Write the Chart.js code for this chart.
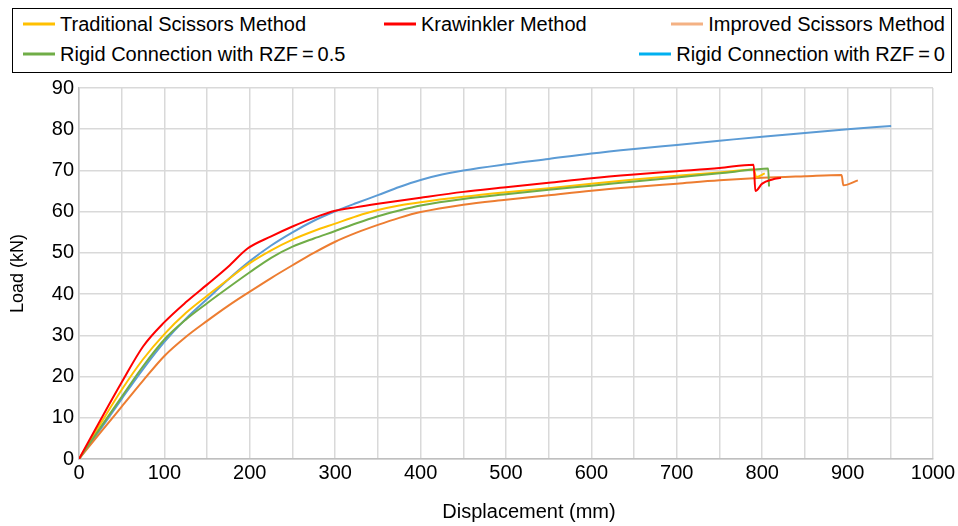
<!DOCTYPE html>
<html>
<head>
<meta charset="utf-8">
<script src="https://cdn.jsdelivr.net/npm/chart.js@4.4.0/dist/chart.umd.min.js"></script>
<style>
  body { margin: 0; background: #fff; }
  #wrap { position: relative; width: 958px; height: 526px; font-family: "Liberation Sans", Arial, sans-serif; }
  #legend { position: absolute; left: 12px; top: 8px; width: 938px; height: 63px;
            border: 1px solid #000; background: #fff; font-size: 20px; color: #000; }
  .item { position: absolute; display: flex; align-items: center; white-space: nowrap; transform: translateY(-50%); }
  .sw { width: 32px; height: 3px; margin-right: 5px; }
  #xtitle { position: absolute; left: 529px; top: 511px; transform: translate(-50%, -50%);
            font-size: 20px; color: #000; white-space: nowrap; }
</style>
</head>
<body>
<div id="wrap">
  <canvas id="myChart" width="958" height="526"></canvas>
  <div id="legend"></div>
  <div id="xtitle">Displacement (mm)</div>
</div>
<script>
// Traditional Scissors Method
var tradX = [0, 25, 50, 75, 100, 125, 150, 175, 200, 225, 250, 275, 300, 325, 350, 375, 400, 450, 500, 550, 600, 650, 700, 750, 790, 793, 803];
var tradY = [0, 8.5, 16.8, 24.2, 30.3, 35.4, 39.6, 43.6, 47.5, 50.6, 53.2, 55.3, 57.1, 58.9, 60.4, 61.5, 62.3, 63.6, 64.7, 65.7, 66.8, 67.8, 68.7, 69.5, 70.2, 68.4, 69.3];

// Krawinkler Method
var krawX = [0, 25, 50, 75, 100, 125, 150, 175, 197, 225, 250, 275, 300, 325, 350, 400, 450, 500, 550, 600, 650, 700, 750, 790, 792, 800, 812, 822];
var krawY = [0, 9.4, 18.6, 27.3, 33.2, 38.0, 42.3, 46.7, 51.0, 54.0, 56.4, 58.5, 60.2, 61.1, 61.9, 63.4, 64.8, 65.9, 67.0, 68.1, 69.0, 69.8, 70.6, 71.4, 65.0, 66.8, 67.8, 68.2];

// Improved Scissors Method
var imprX = [0, 25, 50, 75, 100, 125, 150, 175, 200, 225, 250, 275, 300, 325, 350, 375, 400, 450, 500, 550, 600, 650, 700, 750, 800, 850, 893, 895, 912];
var imprY = [0, 6.4, 12.7, 19.0, 25.0, 29.6, 33.5, 37.2, 40.6, 43.9, 47.0, 50.0, 52.7, 54.9, 56.8, 58.5, 59.9, 61.7, 62.9, 64.0, 65.1, 66.0, 66.8, 67.6, 68.2, 68.6, 68.9, 66.4, 67.6];

// Rigid Connection with RZF = 0.5
var rzf5X = [0, 25, 50, 75, 100, 125, 150, 175, 200, 225, 250, 275, 300, 325, 350, 375, 400, 450, 500, 550, 600, 650, 700, 750, 790, 807, 808];
var rzf5Y = [0, 7.6, 15.1, 22.5, 29.0, 33.8, 37.8, 41.6, 45.3, 48.8, 51.5, 53.5, 55.3, 57.2, 58.9, 60.3, 61.5, 63.1, 64.2, 65.3, 66.3, 67.3, 68.3, 69.3, 70.2, 70.5, 66.1];

// Rigid Connection with RZF = 0
var rzf0X = [0, 25, 50, 75, 100, 125, 150, 175, 200, 225, 250, 275, 300, 325, 350, 375, 400, 425, 450, 500, 550, 600, 650, 700, 750, 800, 850, 900, 951];
var rzf0Y = [0, 7.2, 14.6, 21.8, 28.4, 34.0, 38.8, 43.6, 48.0, 51.8, 55.0, 57.8, 60.1, 62.1, 64.0, 66.0, 67.7, 69.0, 70.0, 71.5, 72.8, 74.1, 75.2, 76.2, 77.2, 78.2, 79.1, 80.0, 80.8];

var names = ["Traditional Scissors Method", "Krawinkler Method", "Improved Scissors Method",
             "Rigid Connection with RZF\u2009=\u20090.5", "Rigid Connection with RZF\u2009=\u20090"];
var lineColors = ["#FFC000", "#FF0000", "#ED7D31", "#70AD47", "#5B9BD5"];
var legendColors = ["#FFC000", "#FF0000", "#F4B183", "#70AD47", "#00B0F0"];

function pts(xs, ys) {
  return xs.map(function (x, i) { return {x: x, y: ys[i]}; });
}

var series = [pts(tradX, tradY), pts(krawX, krawY), pts(imprX, imprY), pts(rzf5X, rzf5Y), pts(rzf0X, rzf0Y)];
// draw order: blue at the back, red on top
var drawOrder = [3, 1, 4, 2, 5];

var datasets = series.map(function (d, i) {
  return {
    label: names[i],
    data: d,
    borderColor: lineColors[i],
    backgroundColor: lineColors[i],
    borderWidth: 2,
    pointRadius: 0,
    cubicInterpolationMode: "monotone",
    order: drawOrder[i]
  };
});

var font = {family: "'Liberation Sans', Arial, sans-serif", size: 20};
var yTitleFont = {family: "'Liberation Sans', Arial, sans-serif", size: 18};
Chart.defaults.color = "#000";

new Chart("myChart", {
  type: "line",
  data: {datasets: datasets},
  options: {
    responsive: false,
    animation: false,
    layout: {padding: {left: 0, right: 25, top: 88, bottom: 0}},
    plugins: {legend: {display: false}, tooltip: {enabled: false}},
    scales: {
      x: {
        type: "linear",
        min: 0, max: 1000,
        ticks: {
          stepSize: 50, padding: 2, font: font, maxRotation: 0, autoSkip: false,
          callback: function (v) { return v % 100 === 0 ? v : ""; }
        },
        grid: {color: "#d9d9d9", lineWidth: 1.5, drawTicks: false},
        border: {color: "#bfbfbf", width: 1.5},
        afterFit: function (s) { s.height = 67; }
      },
      y: {
        min: 0, max: 90,
        ticks: {stepSize: 10, padding: 5, font: font},
        grid: {color: "#d9d9d9", lineWidth: 1.5, drawTicks: false},
        border: {color: "#bfbfbf", width: 1.5},
        title: {display: true, text: "Load (kN)", font: yTitleFont, padding: {top: 7, bottom: 0}},
        afterFit: function (s) { s.width = 79; }
      }
    }
  }
});

// legend box built from the same names and colours
var spots = [
  {left: 10, top: 15}, {left: 371, top: 15}, {right: 6, top: 15},
  {left: 10, top: 45}, {right: 6, top: 45}
];
var legend = document.getElementById("legend");
names.forEach(function (n, i) {
  var it = document.createElement("div");
  it.className = "item";
  var p = spots[i];
  if (p.left !== undefined) it.style.left = p.left + "px"; else it.style.right = p.right + "px";
  it.style.top = p.top + "px";
  var sw = document.createElement("span");
  sw.className = "sw";
  sw.style.background = legendColors[i];
  var tx = document.createElement("span");
  tx.textContent = n;
  it.appendChild(sw);
  it.appendChild(tx);
  legend.appendChild(it);
});
</script>
</body>
</html>
